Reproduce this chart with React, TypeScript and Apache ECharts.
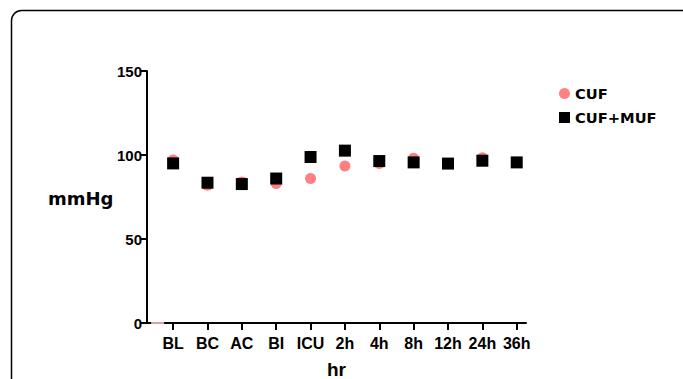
import React, { useEffect, useRef } from "react";
import * as echarts from "echarts";

const categories = ["BL", "BC", "AC", "BI", "ICU", "2h", "4h", "8h", "12h", "24h", "36h"];
const cufValues = [97, 82, 84, 83, 86, 93.5, 95, 98, 95, 98.4, 95.5];
const cufMufValues = [95, 83.5, 82.7, 86, 98.8, 102.6, 96.4, 95.6, 94.9, 96.6, 95.6];
const strayPoint = [-0.45, 0];
const yTicks = [0, 50, 100, 150];

const FONT = "'Liberation Sans', Arial, sans-serif";
const FONT_WIDE = "'DejaVu Sans', Verdana, sans-serif";

export default function App() {
  const ref = useRef<HTMLDivElement>(null);
  useEffect(() => {
    if (!ref.current) return;
    const chart = echarts.init(ref.current, null, { renderer: "svg" });
    const idx = categories.map((_, i) => i);
    chart.setOption({
      animation: false,
      backgroundColor: "#ffffff",
      textStyle: { fontFamily: FONT },
      graphic: [
        {
          type: "rect",
          shape: { x: 11.5, y: 10.5, width: 720, height: 420, r: 10 },
          style: { fill: "none", stroke: "#000", lineWidth: 1.5 },
          silent: true,
        },
        {
          type: "text",
          left: 48,
          top: 189,
          style: { text: "mmHg", font: `bold 18px ${FONT_WIDE}`, fill: "#000" },
        },
      ],
      legend: [
        {
          data: [{ name: "CUF", icon: "circle" }],
          left: 559,
          top: 86,
          padding: 0,
          orient: "vertical",
          itemWidth: 11,
          itemHeight: 11,
          textStyle: { fontSize: 14.7, fontWeight: "bold", color: "#000", fontFamily: FONT_WIDE },
        },
        {
          data: [{ name: "CUF+MUF", icon: "rect" }],
          left: 559,
          top: 110,
          padding: 0,
          orient: "vertical",
          itemWidth: 11,
          itemHeight: 11,
          textStyle: { fontSize: 14.7, fontWeight: "bold", color: "#000", fontFamily: FONT_WIDE },
        },
      ],
      grid: { left: 147, right: 157, top: 71, bottom: 56, containLabel: false, outerBoundsMode: "none" },
      xAxis: {
        type: "value",
        min: -0.76,
        max: 10.27,
        name: "hr",
        nameLocation: "middle",
        nameGap: 37,
        nameTextStyle: { fontSize: 19, fontWeight: "bold", color: "#000", fontFamily: FONT },
        axisLine: { show: true, onZero: false, lineStyle: { color: "#000", width: 2 } },
        axisTick: { show: true, length: 7, lineStyle: { color: "#000", width: 2 }, customValues: idx },
        axisLabel: {
          customValues: idx,
          formatter: (v: number) => categories[Math.round(v)] ?? "",
          fontSize: 16,
          fontWeight: "bold",
          color: "#000",
          margin: 12,
          fontFamily: FONT,
        },
        splitLine: { show: false },
      },
      yAxis: {
        type: "value",
        min: 0,
        max: 150,
        interval: 50,
        axisLine: { show: true, onZero: false, lineStyle: { color: "#000", width: 2 } },
        axisTick: { show: true, length: 7, lineStyle: { color: "#000", width: 2 } },
        axisLabel: {
          fontSize: 15,
          fontWeight: "bold",
          color: "#000",
          margin: 5,
          fontFamily: FONT,
          formatter: (v: number) => (yTicks.includes(v) ? String(v) : ""),
        },
        splitLine: { show: false },
      },
      series: [
        {
          name: "CUF",
          type: "scatter",
          symbol: "circle",
          symbolSize: 11,
          itemStyle: { color: "#ff8080", opacity: 1 },
          z: 2,
          clip: false,
          data: [
            { value: strayPoint, symbol: "rect", symbolSize: [13, 2], itemStyle: { color: "#d9a0a0", opacity: 1 } },
            ...cufValues.map((v, i) => [i, v]),
          ],
        },
        {
          name: "CUF+MUF",
          type: "scatter",
          symbol: "rect",
          symbolSize: 12,
          itemStyle: { color: "#000000", opacity: 1 },
          z: 3,
          data: cufMufValues.map((v, i) => [i, v]),
        },
      ],
    });
    return () => chart.dispose();
  }, []);
  return (
    <div
      ref={ref}
      style={{ position: "fixed", left: 0, top: 0, width: 683, height: 379, background: "#fff" }}
    />
  );
}
